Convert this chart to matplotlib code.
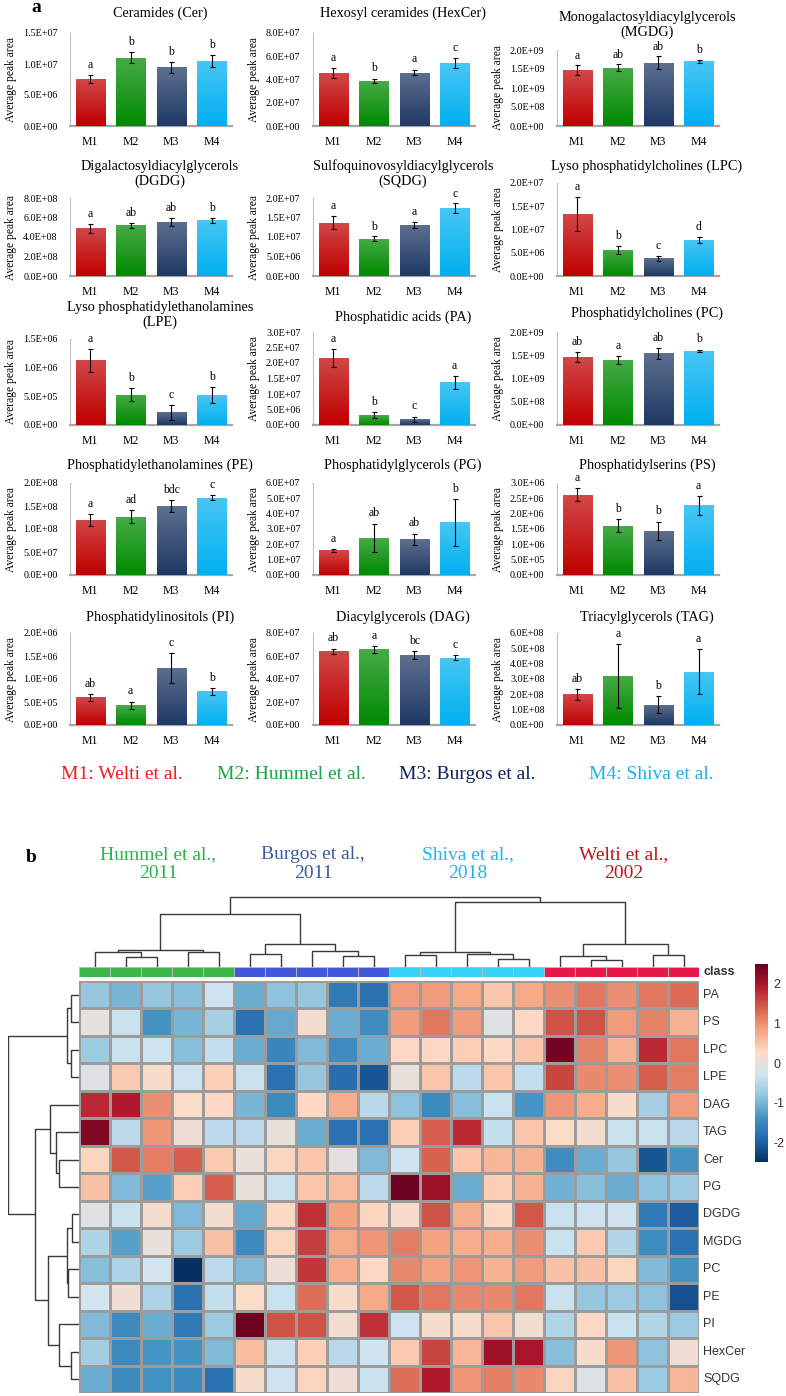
import numpy as np
import matplotlib
matplotlib.use("Agg")
import matplotlib.pyplot as plt
from matplotlib.colors import LinearSegmentedColormap, ListedColormap, to_rgb

# ---------------------------------------------------------------
# panel a : average peak area per lipid class, four methods
# ---------------------------------------------------------------
methods = ["M1", "M2", "M3", "M4"]
panel_titles = [
    "Ceramides (Cer)", "Hexosyl ceramides (HexCer)", "Monogalactosyldiacylglycerols\n(MGDG)",
    "Digalactosyldiacylglycerols\n(DGDG)", "Sulfoquinovosyldiacylglycerols\n(SQDG)", "Lyso phosphatidylcholines (LPC)",
    "Lyso phosphatidylethanolamines\n(LPE)", "Phosphatidic acids (PA)", "Phosphatidylcholines (PC)",
    "Phosphatidylethanolamines (PE)", "Phosphatidylglycerols (PG)", "Phosphatidylserins (PS)",
    "Phosphatidylinositols (PI)", "Diacylglycerols (DAG)", "Triacylglycerols (TAG)",
]
y_max = [1.5e7, 8e7, 2e9, 8e8, 2e7, 2e7, 1.5e6, 3e7, 2e9, 2e8, 6e7, 3e6, 2e6, 8e7, 6e8]
y_step = [5e6, 2e7, 5e8, 2e8, 5e6, 5e6, 5e5, 5e6, 5e8, 5e7, 1e7, 5e5, 5e5, 2e7, 1e8]
means = [
    [7.6e6, 1.10e7, 9.45e6, 1.05e7],
    [4.55e7, 3.88e7, 4.6e7, 5.4e7],
    [1.47e9, 1.53e9, 1.66e9, 1.70e9],
    [4.9e8, 5.2e8, 5.55e8, 5.7e8],
    [1.37e7, 9.6e6, 1.31e7, 1.74e7],
    [1.33e7, 5.6e6, 3.8e6, 7.8e6],
    [1.13e6, 5.3e5, 2.2e5, 5.2e5],
    [2.16e7, 3.2e6, 1.9e6, 1.38e7],
    [1.46e9, 1.40e9, 1.54e9, 1.59e9],
    [1.20e8, 1.27e8, 1.49e8, 1.68e8],
    [1.60e7, 2.42e7, 2.33e7, 3.43e7],
    [2.62e6, 1.61e6, 1.44e6, 2.27e6],
    [6.0e5, 4.3e5, 1.24e6, 7.3e5],
    [6.4e7, 6.6e7, 6.1e7, 5.85e7],
    [2.0e8, 3.2e8, 1.32e8, 3.47e8],
]
errs = [
    [6e5, 9e5, 9e5, 1.0e6],
    [4.5e6, 2e6, 2.5e6, 4.5e6],
    [1.3e8, 9e7, 1.7e8, 5e7],
    [4.5e7, 2.5e7, 4.5e7, 3e7],
    [1.7e6, 6e5, 8e5, 1.3e6],
    [3.6e6, 8e5, 5e5, 6e5],
    [2.0e5, 1.1e5, 1.3e5, 1.4e5],
    [3.0e6, 1.0e6, 8e5, 2.1e6],
    [1.1e8, 9e7, 1.1e8, 3e7],
    [1.3e7, 1.4e7, 1.3e7, 6e6],
    [1.0e6, 9.3e6, 3.7e6, 1.52e7],
    [2.2e5, 2.2e5, 3.0e5, 3.1e5],
    [8e4, 8e4, 3.3e5, 8e4],
    [2.5e6, 3e6, 3.5e6, 2e6],
    [3.5e7, 2.1e8, 5.5e7, 1.47e8],
]
letters = [
    ["a", "b", "b", "b"], ["a", "b", "a", "c"], ["a", "ab", "ab", "b"],
    ["a", "ab", "ab", "b"], ["a", "b", "a", "c"], ["a", "b", "c", "d"],
    ["a", "b", "c", "b"], ["a", "b", "c", "a"], ["ab", "a", "ab", "b"],
    ["a", "ad", "bdc", "c"], ["a", "ab", "ab", "b"], ["a", "b", "b", "a"],
    ["ab", "a", "c", "b"], ["ab", "a", "bc", "c"], ["ab", "a", "b", "a"],
]
method_names = ["M1: Welti et al.", "M2: Hummel et al.", "M3: Burgos et al.", "M4: Shiva et al."]

# ---------------------------------------------------------------
# panel b : z-scored heatmap (rows = lipid classes, 5 samples per study)
# ---------------------------------------------------------------
study_names = ["Hummel et al.,\n2011", "Burgos et al.,\n2011", "Shiva et al.,\n2018", "Welti et al.,\n2002"]
heat_rows = ["PA", "PS", "LPC", "LPE", "DAG", "TAG", "Cer", "PG", "DGDG", "MGDG", "PC", "PE", "PI", "HexCer", "SQDG"]
heat_values = [
    [-0.8, -1.0, -0.8, -0.9, -0.3, -1.1, -0.85, -0.8, -1.7, -1.8, 0.9, 0.9, 0.8, 0.5, 0.8, 1.0, 1.2, 1.0, 1.2, 1.3],
    [0.0, -0.35, -1.4, -1.0, -0.65, -1.8, -1.15, 0.15, -1.1, -1.45, 0.9, 1.2, 0.9, -0.1, 0.3, 1.5, 1.5, 0.9, 1.1, 0.7],
    [-0.75, -0.35, -0.3, -0.9, -0.4, -1.1, -1.55, -0.95, -1.45, -1.1, 0.3, 0.3, 0.4, 0.3, 0.5, 2.4, 1.1, 0.7, 1.8, 1.2],
    [-0.1, 0.45, 0.2, -0.3, 0.4, -0.35, -1.8, -0.8, -1.85, -2.1, 0.0, 0.5, -0.45, 0.5, -0.4, 1.6, 1.05, 1.0, 1.4, 1.15],
    [1.8, 1.95, 1.0, 0.25, 0.3, -1.0, -1.5, 0.3, 0.75, -0.5, -0.85, -1.5, -0.9, -0.35, -1.35, 0.95, 0.75, 0.2, -0.65, 0.9],
    [2.3, -0.45, 0.95, 0.1, -0.45, -0.45, 0.0, -1.1, -1.8, -1.8, 0.4, 1.4, 1.8, -0.4, 0.5, 0.25, 0.15, -0.35, -0.35, -0.5],
    [0.35, 1.45, 1.15, 1.4, 0.45, 0.0, 0.35, 0.5, -0.05, -0.95, -0.3, 1.35, 0.5, 0.65, 0.7, -1.45, -1.1, -0.8, -2.1, -1.4],
    [0.55, -0.95, -1.25, 0.4, 1.4, 0.0, -0.35, 0.5, 0.6, -0.45, 2.45, 2.1, -1.1, 0.4, 0.7, -1.05, -0.9, -1.1, -0.85, -0.75],
    [-0.1, -0.35, 0.15, -0.95, 0.15, -1.15, 0.3, 1.75, 0.85, 0.35, 0.2, 1.5, 0.75, 0.3, 1.45, -0.35, -0.3, -0.3, -1.7, -2.05],
    [-0.6, -1.25, 0.0, -0.75, 0.55, -1.5, 0.35, 1.65, 0.8, 0.95, 1.15, 0.85, 0.75, 0.75, 1.0, -0.35, 0.45, -0.55, -1.45, -1.8],
    [-0.9, -0.6, -0.25, -2.5, -0.45, -0.95, 0.05, 1.7, 0.75, 0.3, 1.05, 0.85, 0.95, 0.7, 0.9, 0.55, 0.55, 0.35, -0.95, -1.4],
    [-0.25, 0.1, -0.6, -1.8, -0.4, 0.25, -0.35, 1.25, 0.2, 0.8, 1.45, 1.2, 1.05, 1.05, 1.2, -0.35, -0.8, -0.75, -0.85, -2.15],
    [-0.95, -1.5, -1.1, -1.7, -0.75, 2.45, 1.5, 1.5, 0.15, 1.75, -0.3, 0.2, 0.2, 0.5, 0.15, -0.55, 0.3, -0.35, -0.55, -0.75],
    [-0.7, -1.5, -1.35, -1.4, -0.95, 0.6, -0.35, 0.4, -0.5, -0.3, 0.45, 1.6, 0.65, 2.1, 2.0, -0.9, 0.2, 0.95, -0.85, 0.1],
    [-1.1, -1.5, -1.4, -1.5, -1.8, 0.2, -0.3, 0.35, 0.1, -0.35, 1.25, 1.95, 0.95, 1.15, 1.05, 0.35, -0.15, 0.55, -0.75, 0.65],
]
sample_class = [0] * 5 + [1] * 5 + [2] * 5 + [3] * 5
# hierarchical clustering merges (child a, child b, height); ids >= n are earlier merges
col_links = [
    (1, 2, 10.3), (0, 20, 15), (3, 4, 15), (21, 22, 17.3),
    (5, 6, 13), (8, 9, 10.7), (7, 25, 16), (24, 26, 23.3), (23, 27, 52.7),
    (10, 11, 11.7), (13, 14, 8.3), (12, 30, 12.7), (29, 31, 15),
    (16, 17, 6.7), (15, 33, 10.7), (18, 19, 11.7), (34, 35, 23.3),
    (32, 36, 65), (28, 37, 70),
]
row_links = [
    (0, 1, 8), (2, 3, 8), (15, 16, 12.3),
    (6, 7, 19.7), (5, 18, 23), (4, 19, 29),
    (8, 9, 7.3), (10, 11, 10.7), (21, 22, 12.3),
    (13, 14, 8.3), (12, 24, 19.7), (23, 25, 31.3),
    (20, 26, 44), (17, 27, 70.7),
]

# ---------------------------------------------------------------
W, H = 786, 1396
SERIF = ["Liberation Serif", "DejaVu Serif"]
SANS = ["Liberation Sans", "DejaVu Sans"]
plt.rcParams["font.family"] = SERIF
plt.rcParams["axes.unicode_minus"] = False

fig = plt.figure(figsize=(W / 100, H / 100), dpi=100)


def px_axes(x0, y0, x1, y1):
    return fig.add_axes([x0 / W, 1 - y1 / H, (x1 - x0) / W, (y1 - y0) / H])


bar_colors = ["#C00000", "#008A00", "#1F3864", "#00B0F0"]
legend_colors = ["#EE1C1C", "#14A84A", "#0F2060", "#16B3EE"]

col_x = [70, 313, 557]
ax_w = 162
row_bottom = [126, 276, 425, 575, 725]
ax_top = [33, 33, 50, 198, 198, 183, 339, 332, 332, 483, 483, 483, 633, 633, 633]
title_y = [13, 13, 25, 174, 174, 166, 315, 317, 313, 465, 465, 465, 617, 617, 617]

for k in range(15):
    r, c = divmod(k, 3)
    x0 = col_x[c]
    ax = px_axes(x0, ax_top[k], x0 + ax_w, row_bottom[r])
    xs = np.arange(4)
    bars = ax.bar(xs, means[k], width=0.72, color=bar_colors, zorder=2,
                  yerr=errs[k], capsize=1.8,
                  error_kw=dict(elinewidth=0.8, capthick=0.8, ecolor="black", zorder=4))
    # soft vertical gradient like the Excel bars
    for rect, col in zip(bars, bar_colors):
        base = np.array(to_rgb(col))
        light = base + (1 - base) * 0.28
        cm = LinearSegmentedColormap.from_list("g", [light, base])
        im = ax.imshow(np.linspace(0, 1, 64).reshape(-1, 1), cmap=cm, aspect="auto",
                       extent=[rect.get_x(), rect.get_x() + rect.get_width(), 0, rect.get_height()],
                       zorder=3)
        im.set_clip_path(rect)
    for i in range(4):
        ax.text(i, means[k][i] + errs[k][i] + 0.045 * y_max[k], letters[k][i],
                ha="center", va="bottom", fontsize=8.5, clip_on=False)
    ax.set_xlim(-0.5, 3.5)
    ax.set_ylim(0, y_max[k])
    ticks = np.arange(0, y_max[k] + y_step[k] / 2, y_step[k])
    ax.set_yticks(ticks)
    ax.set_yticklabels([f"{v:.1E}" for v in ticks], fontsize=7.3)
    ax.set_xticks(xs)
    ax.set_xticklabels(methods, fontsize=8.5)
    ax.tick_params(length=0)
    ax.tick_params(axis="y", pad=9)
    ax.tick_params(axis="x", pad=7)
    for s in ["top", "right"]:
        ax.spines[s].set_visible(False)
    ax.spines["left"].set_color("#BFBFBF")
    ax.spines["left"].set_linewidth(0.8)
    ax.spines["bottom"].set_color("#A6A6A6")
    ax.spines["bottom"].set_linewidth(1.6)
    ax.set_ylabel("Average peak area", fontsize=8.3, labelpad=4)
    fig.text((x0 + ax_w / 2 + 9) / W, 1 - title_y[k] / H, panel_titles[k],
             ha="center", va="center", fontsize=10.3, linespacing=1.15)

fig.text(36 / W, 1 - 7 / H, "a", fontsize=14, fontweight="bold", ha="center", va="center")

legend_x = [122, 291, 467, 651]
for name, col, x in zip(method_names, legend_colors, legend_x):
    fig.text(x / W, 1 - 775 / H, name, color=col, fontsize=14, ha="center", va="center")

# ---------------------------------------------------------------
# panel b
# ---------------------------------------------------------------
fig.text(31 / W, 1 - 857 / H, "b", fontsize=14, fontweight="bold", ha="center", va="center")
study_colors = ["#2DB34B", "#3D5B9E", "#1DB6EE", "#C0141E"]
study_x = [158, 313, 468, 624]
for name, col, x in zip(study_names, study_colors, study_x):
    fig.text(x / W, 1 - 864 / H, name, color=col, fontsize=14, ha="center", va="center",
             linespacing=1.15)

rdbu10 = ["#053061", "#2166AC", "#4393C3", "#92C5DE", "#D1E5F0",
          "#FDDBC7", "#F4A582", "#D6604D", "#B2182B", "#67001F"]
heat_cmap = LinearSegmentedColormap.from_list("heat", rdbu10, N=256)
class_colors = ["#3BB44A", "#4159D6", "#38D4F5", "#E8174A"]

HX0, HX1, HY0, HY1 = 79, 699, 981, 1393
n_rows, n_cols = len(heat_rows), len(heat_values[0])

ax_h = px_axes(HX0, HY0, HX1, HY1)
mesh = ax_h.pcolormesh(np.array(heat_values), cmap=heat_cmap, vmin=-2.5, vmax=2.5,
                       edgecolors="#9C9C9C", linewidth=0.9)
ax_h.set_xlim(0, n_cols)
ax_h.set_ylim(n_rows, 0)
ax_h.axis("off")
for r, name in enumerate(heat_rows):
    ax_h.text(n_cols + 0.13, r + 0.5, name, ha="left", va="center", fontsize=9,
              family=SANS, color="#333333", clip_on=False)

ax_c = px_axes(HX0, 967, HX1, 977)
ax_c.pcolormesh(np.array([sample_class]), cmap=ListedColormap(class_colors), vmin=-0.5, vmax=3.5,
                edgecolors="#B8B8B8", linewidth=0.7)
ax_c.set_xlim(0, n_cols)
ax_c.set_ylim(1, 0)
ax_c.axis("off")
ax_c.text(n_cols + 0.13, 0.5, "class", ha="left", va="center", fontsize=9, fontweight="bold",
          family=SANS, color="#333333", clip_on=False)


def dendro_segments(links, n):
    pos = {i: i + 0.5 for i in range(n)}
    hgt = {i: 0.0 for i in range(n)}
    segs = []
    for k, (a, b, h) in enumerate(links):
        segs.append(([pos[a], pos[a], pos[b], pos[b]], [hgt[a], h, h, hgt[b]]))
        pos[n + k] = (pos[a] + pos[b]) / 2
        hgt[n + k] = h
    return segs


ax_dc = px_axes(HX0, 895, HX1, 967)
for xs, hs in dendro_segments(col_links, n_cols):
    ax_dc.plot(xs, hs, color="#3A3A3A", lw=1.0, solid_capstyle="butt")
ax_dc.set_xlim(0, n_cols)
ax_dc.set_ylim(0, 72)
ax_dc.axis("off")

ax_dr = px_axes(8, HY0, HX0, HY1)
for ys, hs in dendro_segments(row_links, n_rows):
    ax_dr.plot(hs, ys, color="#3A3A3A", lw=1.0, solid_capstyle="butt")
ax_dr.set_xlim(71, 0)
ax_dr.set_ylim(n_rows, 0)
ax_dr.axis("off")

cax = px_axes(755, 964, 768, 1162)
cb = fig.colorbar(mesh, cax=cax, ticks=[-2, -1, 0, 1, 2])
cb.outline.set_visible(False)
cb.ax.tick_params(length=0, labelsize=9, pad=4, colors="#333333")
for t in cb.ax.get_yticklabels():
    t.set_family(SANS)

fig.savefig("out.png", dpi=100)
